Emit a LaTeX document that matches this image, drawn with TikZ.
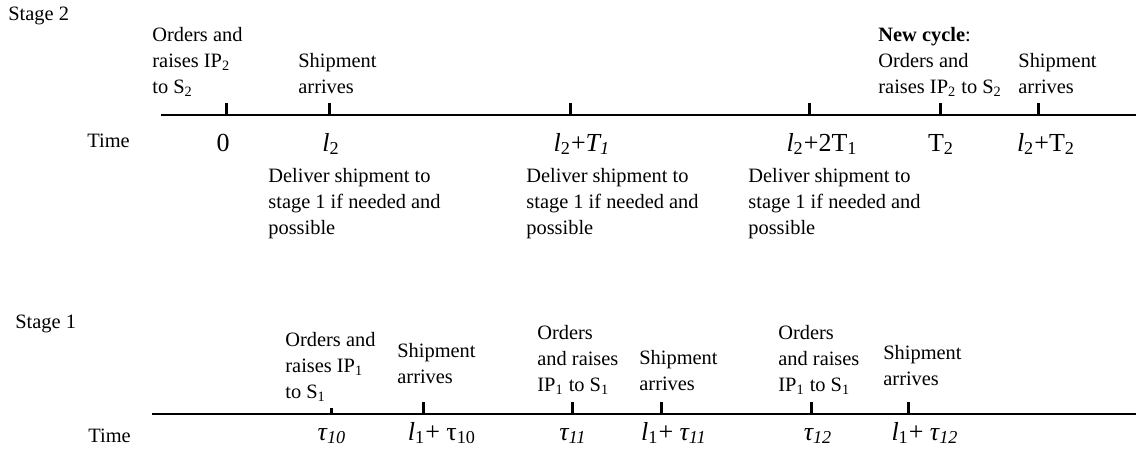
\documentclass[tikz,border=0pt]{standalone}
\usepackage{fontspec}
\setmainfont{Liberation Serif}
\begin{document}
\begin{tikzpicture}[x=0.5pt, y=-0.5pt, font=\fontsize{10.2}{13}\selectfont, line join=round,
	txt/.style={align=left, inner sep=0pt, anchor=base west},
	val/.style={inner sep=0pt, anchor=base, font=\fontsize{13}{15}\selectfont},
	axis/.style={line width=1pt},
	tick/.style={line width=1.5pt}]
	\useasboundingbox (0,0) rectangle (1136,452);
	
	% Stage 2
	\node[txt] (stageB) at (8,20) {Stage 2};
	\draw[axis] (161,115)--(1136,115);
	\draw[tick] (226,103)--(226,115);
	\draw[tick] (329,103)--(329,115);
	\draw[tick] (570,103)--(570,115);
	\draw[tick] (809,103)--(809,115);
	\draw[tick] (940,103)--(940,115);
	\draw[tick] (1038,103)--(1038,115);
	\node[txt] (ordB) at (152,93) {Orders and\\raises IP\textsubscript{2}\\to S\textsubscript{2}};
	\node[txt] (shipB) at (298,93) {Shipment\\arrives};
	\node[txt] (newB) at (878,93) {\textbf{New cycle}:\\Orders and\\raises IP\textsubscript{2} to S\textsubscript{2}};
	\node[txt] (shipBb) at (1018,93) {Shipment\\arrives};
	\node[txt] (timeB) at (87,147) {Time};
	\node[val] (zeroB) at (223,151) {0};
	\node[val] (lB) at (331,151) {\textit{l}\textsubscript{2}};
	\node[val] (lTB) at (582,151) {\textit{l}\textsubscript{2}+\textit{T\textsubscript{1}}};
	\node[val] (lTTB) at (822,151) {\textit{l}\textsubscript{2}+2T\textsubscript{1}};
	\node[val] (TB) at (941,151) {T\textsubscript{2}};
	\node[val] (lTTTB) at (1046,151) {\textit{l}\textsubscript{2}+T\textsubscript{2}};
	\node[txt] (delB) at (268,234) {Deliver shipment to\\stage 1 if needed and\\possible};
	\node[txt] (delBb) at (526,234) {Deliver shipment to\\stage 1 if needed and\\possible};
	\node[txt] (delBc) at (748,234) {Deliver shipment to\\stage 1 if needed and\\possible};
	
	% Stage 1
	\node[txt] (stageA) at (15,328) {Stage 1};
	\draw[axis] (152,414)--(1136,414);
	\draw[tick] (331,408)--(331,414);
	\draw[tick] (423,402)--(423,414);
	\draw[tick] (572,402)--(572,414);
	\draw[tick] (661,402)--(661,414);
	\draw[tick] (811,402)--(811,414);
	\draw[tick] (908,402)--(908,414);
	\node[txt] (ordA) at (285,398) {Orders and\\raises IP\textsubscript{1}\\to S\textsubscript{1}};
	\node[txt] (shipA) at (397,383) {Shipment\\arrives};
	\node[txt] (ordAb) at (537,391) {Orders\\and raises\\IP\textsubscript{1} to S\textsubscript{1}};
	\node[txt] (shipAb) at (639,390) {Shipment\\arrives};
	\node[txt] (ordAc) at (778,391) {Orders\\and raises\\IP\textsubscript{1} to S\textsubscript{1}};
	\node[txt] (shipAc) at (883,385) {Shipment\\arrives};
	\node[txt] (timeA) at (88,442) {Time};
	\node[val] (tauA) at (332,440) {\textit{τ\textsubscript{10}}};
	\node[val] (ltauA) at (442,440) {\textit{l}\textsubscript{1}+ τ\textsubscript{10}};
	\node[val] (tauAb) at (573,440) {\textit{τ\textsubscript{11}}};
	\node[val] (ltauAb) at (674,440) {\textit{l}\textsubscript{1}+ \textit{τ\textsubscript{11}}};
	\node[val] (tauAc) at (818,440) {\textit{τ\textsubscript{12}}};
	\node[val] (ltauAc) at (925,440) {\textit{l}\textsubscript{1}+ \textit{τ\textsubscript{12}}};
\end{tikzpicture}
\end{document}
